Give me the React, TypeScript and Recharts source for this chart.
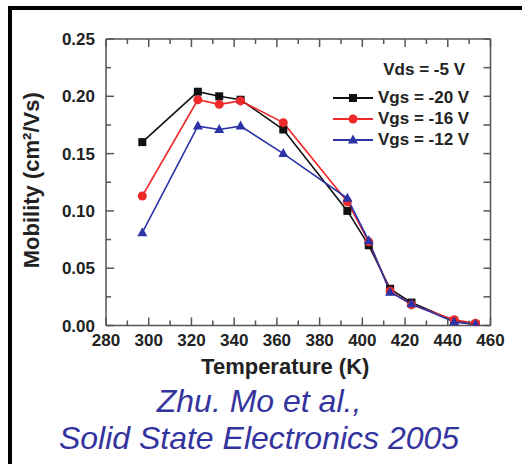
import React from 'react';
import { LineChart, Line, XAxis, YAxis, Legend } from 'recharts';

const temperatures = [297, 323, 333, 343, 363, 393, 403, 413, 423, 443, 453];
const vgs20 = [0.160, 0.204, 0.200, 0.197, 0.171, 0.100, 0.070, 0.032, 0.020, 0.004, 0.001];
const vgs16 = [0.113, 0.197, 0.193, 0.196, 0.177, 0.108, 0.073, 0.030, 0.018, 0.005, 0.002];
const vgs12 = [0.081, 0.174, 0.171, 0.174, 0.150, 0.111, 0.074, 0.029, 0.019, 0.003, 0.001];

const xTicks = [280, 290, 300, 310, 320, 330, 340, 350, 360, 370, 380, 390, 400, 410, 420, 430, 440, 450, 460];
const yTicks = [0, 0.025, 0.05, 0.075, 0.1, 0.125, 0.15, 0.175, 0.2, 0.225, 0.25];

const seriesInfo = [
  { key: 'v20', name: 'Vgs = -20 V', color: '#111111', shape: 'square' },
  { key: 'v16', name: 'Vgs = -16 V', color: '#f02a2a', shape: 'circle' },
  { key: 'v12', name: 'Vgs = -12 V', color: '#2b33a6', shape: 'triangle' },
];
const headerText = 'Vds = -5 V';
const xTitle = 'Temperature (K)';
const yTitle = 'Mobility (cm\u00B2/Vs)';
const citation1 = 'Zhu. Mo et al.,';
const citation2 = 'Solid State Electronics 2005';

const data = temperatures.map((t, i) => ({ t, v20: vgs20[i], v16: vgs16[i], v12: vgs12[i] }));

const FONT = '"Liberation Sans", Arial, sans-serif';
const AXIS = '#555555';

const isMajorX = (v: number) => Math.round(v) % 20 === 0;
const isMajorY = (v: number) => Math.round(v * 1000) % 50 === 0;

const BottomTick = (p: any) => {
  const { x, y, payload } = p;
  const major = isMajorX(payload.value);
  return (
    <g>
      <line x1={x} x2={x} y1={y} y2={y - (major ? 8 : 5)} stroke={AXIS} strokeWidth={1.5} />
      {major && (
        <text x={x} y={y + 20} textAnchor="middle" fontFamily={FONT} fontWeight="bold" fontSize={17} fill="#222">
          {payload.value}
        </text>
      )}
    </g>
  );
};
const TopTick = (p: any) => {
  const { x, y, payload } = p;
  const major = isMajorX(payload.value);
  return <line x1={x} x2={x} y1={y} y2={y + (major ? 8 : 5)} stroke={AXIS} strokeWidth={1.5} />;
};
const LeftTick = (p: any) => {
  const { x, y, payload } = p;
  const major = isMajorY(payload.value);
  return (
    <g>
      <line x1={x} x2={x + (major ? 8 : 5)} y1={y} y2={y} stroke={AXIS} strokeWidth={1.5} />
      {major && (
        <text x={x - 11} y={y} dy="0.36em" textAnchor="end" fontFamily={FONT} fontWeight="bold" fontSize={17} fill="#222">
          {Number(payload.value).toFixed(2)}
        </text>
      )}
    </g>
  );
};
const RightTick = (p: any) => {
  const { x, y } = p;
  return <line x1={x} x2={x - 7} y1={y} y2={y} stroke={AXIS} strokeWidth={1.5} />;
};

const Marker = ({ shape, cx, cy, color }: any) => {
  if (cx == null || cy == null) return null;
  if (shape === 'square') return <rect x={cx - 4} y={cy - 4} width={8} height={8} fill={color} />;
  if (shape === 'circle') return <circle cx={cx} cy={cy} r={4.5} fill={color} />;
  return <polygon points={`${cx},${cy - 5.5} ${cx + 5},${cy + 3.5} ${cx - 5},${cy + 3.5}`} fill={color} />;
};

const LegendBox = () => (
  <div style={{ fontFamily: FONT, fontWeight: 'bold', fontSize: 17, color: '#222', width: 135 }}>
    <div style={{ height: 24, lineHeight: '24px', textAlign: 'right' }}>{headerText}</div>
    <div style={{ height: 5 }} />
    {seriesInfo.map((s) => (
      <div key={s.key} style={{ height: 21, lineHeight: '21px', display: 'flex', alignItems: 'center', whiteSpace: 'nowrap' }}>
        <svg width={44} height={12} style={{ flex: 'none' }}>
          <line x1={3} x2={43} y1={6} y2={6} stroke={s.color} strokeWidth={2} />
          <Marker shape={s.shape} cx={23} cy={6} color={s.color} />
        </svg>
        <span style={{ marginLeft: 4 }}>{s.name}</span>
      </div>
    ))}
  </div>
);

export default function App() {
  return (
    <div style={{ position: 'absolute', left: 0, top: 0, width: 522, height: 464, background: '#fff', overflow: 'hidden' }}>
      <div style={{ position: 'absolute', left: 7.5, top: 6, width: 530, height: 470, borderLeft: '4.5px solid #000', borderTop: '4.5px solid #000', boxSizing: 'border-box' }} />
      <LineChart width={522} height={464} data={data} margin={{ top: 38, right: 30.5, left: 0, bottom: 98.5 }}>
        <XAxis
          dataKey="t"
          type="number"
          domain={[280, 460]}
          ticks={xTicks}
          interval={0}
          height={40}
          tickSize={0}
          tickMargin={0}
          axisLine={{ stroke: AXIS, strokeWidth: 1.5 }}
          tickLine={false}
          tick={<BottomTick />}
          allowDataOverflow
          label={{
            content: (props: any) => {
              const vb = props.viewBox;
              return (
                <text x={vb.x + vb.width / 2 - 13} y={vb.y + 48} textAnchor="middle" fontFamily={FONT} fontWeight="bold" fontSize={22} fill="#222">
                  {xTitle}
                </text>
              );
            },
          }}
        />
        <XAxis
          xAxisId="top"
          orientation="top"
          dataKey="t"
          type="number"
          domain={[280, 460]}
          ticks={xTicks}
          interval={0}
          height={1}
          tickSize={0}
          tickMargin={0}
          axisLine={{ stroke: AXIS, strokeWidth: 1.5 }}
          tickLine={false}
          tick={<TopTick />}
          allowDataOverflow
        />
        <YAxis
          type="number"
          domain={[0, 0.25]}
          ticks={yTicks}
          interval={0}
          width={106}
          tickSize={0}
          tickMargin={0}
          axisLine={{ stroke: AXIS, strokeWidth: 1.5 }}
          tickLine={false}
          tick={<LeftTick />}
          allowDataOverflow
          label={{
            content: (props: any) => {
              const vb = props.viewBox;
              const cx = 31;
              const cy = vb.y + vb.height / 2 - 2;
              return (
                <text x={cx} y={cy} transform={`rotate(-90 ${cx} ${cy})`} textAnchor="middle" dominantBaseline="central" fontFamily={FONT} fontWeight="bold" fontSize={22} fill="#222">
                  {yTitle}
                </text>
              );
            },
          }}
        />
        <YAxis
          yAxisId="right"
          orientation="right"
          type="number"
          domain={[0, 0.25]}
          ticks={yTicks}
          interval={0}
          width={1}
          tickSize={0}
          tickMargin={0}
          axisLine={{ stroke: AXIS, strokeWidth: 1.5 }}
          tickLine={false}
          tick={<RightTick />}
          allowDataOverflow
        />
        <Legend
          layout="horizontal"
          verticalAlign="middle"
          align="center"
          wrapperStyle={{ position: 'absolute', left: 330, top: 58, width: 135 }}
          content={() => <LegendBox />}
        />
        <Line
          xAxisId="top"
          yAxisId="right"
          dataKey="v20"
          stroke="none"
          dot={false}
          activeDot={false}
          legendType="none"
          isAnimationActive={false}
        />
        {seriesInfo.map((s) => (
          <Line
            key={s.key}
            dataKey={s.key}
            name={s.name}
            type="linear"
            stroke={s.color}
            strokeWidth={1.6}
            isAnimationActive={false}
            dot={(props: any) => <Marker key={`${s.key}-${props.index}`} shape={s.shape} cx={props.cx} cy={props.cy} color={s.color} />}
            activeDot={false}
          />
        ))}
      </LineChart>
      <div
        style={{
          position: 'absolute',
          left: 0,
          top: 382.5,
          width: 518,
          textAlign: 'center',
          fontFamily: FONT,
          fontStyle: 'italic',
          fontSize: 32,
          lineHeight: '37px',
          color: '#34349e',
        }}
      >
        <div>{citation1}</div>
        <div>{citation2}</div>
      </div>
    </div>
  );
}
